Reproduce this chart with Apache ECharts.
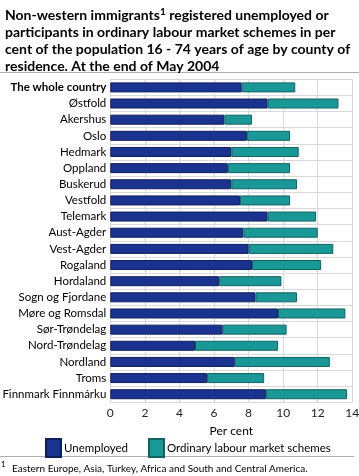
<!DOCTYPE html>
<html><head><meta charset="utf-8">
<script src="https://cdn.jsdelivr.net/npm/echarts@6/dist/echarts.min.js"></script>
<style>html,body{margin:0;padding:0;background:#fff}#c{width:359px;height:476px}</style>
</head><body><div id="c"></div>
<script>
const counties = ["The whole country","Østfold","Akershus","Oslo","Hedmark","Oppland","Buskerud","Vestfold","Telemark","Aust-Agder","Vest-Agder","Rogaland","Hordaland","Sogn og Fjordane","Møre og Romsdal","Sør-Trøndelag","Nord-Trøndelag","Nordland","Troms","Finnmark Finnmárku"];
const unemployed = [7.6,9.1,6.6,7.9,7.0,6.8,7.0,7.5,9.1,7.7,8.0,8.2,6.3,8.4,9.7,6.5,4.9,7.2,5.6,9.0];
const schemes =    [3.1,4.1,1.6,2.5,3.9,3.6,3.8,2.9,2.8,4.3,4.9,4.0,3.6,2.4,3.9,3.7,4.8,5.5,3.3,4.7];
const xTicks = [0,2,4,6,8,10,12,14];
const seriesNames = ["Unemployed","Ordinary labour market schemes"];
const FONT = "Lato";
const chart = echarts.init(document.getElementById('c'), null, {renderer:'canvas'});
chart.setOption({
  animation:false,
  textStyle:{fontFamily:FONT},
  title:{
    left:0, top:2,
    text:"{t|Non-western immigrants}{s|1}{t| registered unemployed or}\n{t|participants in ordinary labour market schemes in per}\n{t|cent of the population 16 - 74 years of age by county of}\n{t|residence. At the end of May 2004}",
    textStyle:{
      rich:{
        t:{fontFamily:FONT,fontWeight:'bold',fontSize:14,color:'#000',lineHeight:17},
        s:{fontFamily:FONT,fontWeight:'bold',fontSize:10,color:'#000',lineHeight:17,verticalAlign:'top',padding:[0,0,6,0]}
      }
    }
  },
  grid:{left:110.3,right:6.7,top:79.3,bottom:73.7,containLabel:false,outerBoundsMode:'none'},
  legend:{
    left:40, top:433, width:330, itemWidth:15, itemHeight:18, itemGap:20, icon:'rect',
    textStyle:{fontFamily:FONT,fontSize:11.5,color:'#000',padding:[0,0,0,-2]},
    data:seriesNames
  },
  xAxis:{
    type:'value', min:0, max:14, interval:2,
    axisLine:{show:false}, axisTick:{show:false},
    axisLabel:{color:'#222',fontSize:12,margin:5,fontFamily:FONT,
      formatter:v=>xTicks.includes(v)?String(v):''},
    splitLine:{show:true,lineStyle:{color:'#d9d9d9',width:1}},
    name:'Per cent', nameLocation:'middle', nameGap:23,
    nameTextStyle:{color:'#000',fontSize:12,fontFamily:FONT}
  },
  yAxis:{
    type:'category', inverse:true, data:counties,
    axisLine:{show:false}, axisTick:{show:false},
    splitLine:{show:true,lineStyle:{color:'#d9d9d9',width:1}},
    axisLabel:{color:'#000',fontSize:11.5,margin:4,fontFamily:FONT,
      formatter:(v,i)=>i===0?'{b|'+v+'}':v,
      rich:{b:{fontWeight:'bold',fontSize:11.5,fontFamily:FONT,color:'#000'}}}
  },
  series:[
    {name:seriesNames[0],type:'bar',stack:'a',barWidth:10,data:unemployed,
     itemStyle:{color:'#1a3390',borderColor:'#0f1f5a',borderWidth:1}},
    {name:seriesNames[1],type:'bar',stack:'a',barWidth:10,data:schemes,
     itemStyle:{color:'#1a9898',borderColor:'#116363',borderWidth:1}}
  ],
  graphic:[
    {type:'line',shape:{x1:0,y1:72.5,x2:359,y2:72.5},style:{stroke:'#b0b0b0',lineWidth:1}},
    {type:'line',shape:{x1:0,y1:456.5,x2:354,y2:456.5},style:{stroke:'#b0b0b0',lineWidth:1}},
    {type:'text',left:1,top:460,style:{text:'1',font:'8px Lato',fill:'#000'}},
    {type:'text',left:12,top:464,style:{text:'Eastern Europe, Asia, Turkey, Africa and South and Central America.',font:'10px Lato',fill:'#000'}}
  ]
});
</script></body></html>
